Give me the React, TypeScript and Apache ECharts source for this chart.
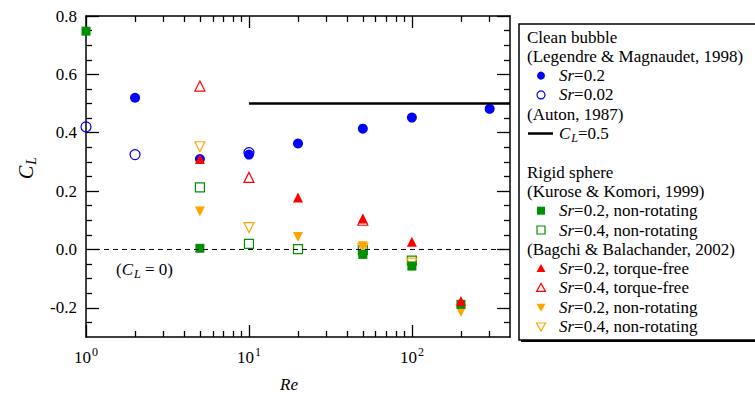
import { useEffect, useRef } from 'react';
import * as echarts from 'echarts';

const FONT = 'Liberation Serif';

// Clean bubble (Legendre & Magnaudet, 1998)
const bubbleSr02Re = [2, 5, 10, 20, 50, 100, 300];
const bubbleSr02CL = [0.52, 0.31, 0.325, 0.363, 0.414, 0.452, 0.482];
const bubbleSr002Re = [1, 2, 10];
const bubbleSr002CL = [0.42, 0.325, 0.332];
// Auton (1987) CL = 0.5
const autonRe = [10, 400];
const autonCL = [0.5, 0.5];
// Zero reference line
const zeroRe = [1, 400];
const zeroCL = [0, 0];
// Rigid sphere (Kurose & Komori, 1999)
const kuroseSr02Re = [1, 5, 50, 100, 200];
const kuroseSr02CL = [0.748, 0.004, -0.017, -0.057, -0.188];
const kuroseSr04Re = [5, 10, 20, 50, 100];
const kuroseSr04CL = [0.213, 0.019, 0.001, -0.002, -0.038];
// Bagchi & Balachander (2002)
const bagchiTF02Re = [5, 20, 50, 100, 200];
const bagchiTF02CL = [0.31, 0.178, 0.106, 0.026, -0.177];
const bagchiTF04Re = [5, 10, 50];
const bagchiTF04CL = [0.56, 0.247, 0.1];
const bagchiNR02Re = [5, 20, 50, 100, 200];
const bagchiNR02CL = [0.13, 0.043, 0.011, -0.058, -0.214];
const bagchiNR04Re = [5, 10, 50, 100];
const bagchiNR04CL = [0.352, 0.075, 0.004, -0.047];

// Ticks
const xMajorTicks = [1, 10, 100];
const xMinorTicks = [2, 3, 4, 5, 6, 7, 8, 9, 20, 30, 40, 50, 60, 70, 80, 90, 200, 300];
const yMajorTicks = [-0.2, 0, 0.2, 0.4, 0.6, 0.8];
const yMinorTicks = [-0.25, -0.15, -0.1, -0.05, 0.05, 0.1, 0.15, 0.25, 0.3, 0.35, 0.45, 0.5, 0.55, 0.65, 0.7, 0.75];

const zip = (xs: number[], ys: number[]) => xs.map((x, i) => [x, ys[i]]);

const BLUE = '#0000ff';
const GREEN = '#009000';
const RED = '#ff0000';
const ORANGE = '#ffa500';

const RICH = {
  n: { fontSize: 17, fontFamily: FONT, fill: '#000', color: '#000' },
  i: { fontStyle: 'italic', fontSize: 17, fontFamily: FONT, fill: '#000', color: '#000' },
  sub: { fontStyle: 'italic', fontSize: 12, fontFamily: FONT, fill: '#000', color: '#000', padding: [9, 0, 0, 1] },
  ti: { fontStyle: 'italic', fontSize: 20, fontFamily: FONT, fill: '#000', color: '#000' },
  tsub: { fontStyle: 'italic', fontSize: 14, fontFamily: FONT, fill: '#000', color: '#000', padding: [11, 0, 0, 1] },
};

export default function App() {
  const ref = useRef<HTMLDivElement>(null);

  useEffect(() => {
    if (!ref.current) return;
    const chart = echarts.init(ref.current, undefined, { renderer: 'svg' });

    const xAxis = (pos: string, ticks: number[], len: number, showLine: boolean, showLabel: boolean) => ({
      type: 'log',
      logBase: 10,
      min: 1,
      max: 400,
      position: pos,
      axisLine: { show: showLine, onZero: false, lineStyle: { color: '#000', width: 1.5 } },
      axisTick: { show: true, inside: true, length: len, customValues: ticks, lineStyle: { color: '#000', width: 1.3 } },
      axisLabel: showLabel
        ? {
            show: true,
            customValues: xMajorTicks,
            margin: 9,
            color: '#000',
            fontFamily: FONT,
            fontSize: 17,
            formatter: (v: number) => `{b|10}{s|${Math.round(Math.log10(v))}}`,
            rich: {
              b: { fontSize: 17, fontFamily: FONT, color: '#000' },
              s: { fontSize: 12, fontFamily: FONT, color: '#000', padding: [0, 0, 11, 1] },
            },
          }
        : { show: false },
      splitLine: { show: false },
      minorTick: { show: false },
      minorSplitLine: { show: false },
    });

    const yAxis = (pos: string, ticks: number[], len: number, showLine: boolean, showLabel: boolean) => ({
      type: 'value',
      min: -0.3,
      max: 0.8,
      interval: 0.1,
      position: pos,
      axisLine: { show: showLine, onZero: false, lineStyle: { color: '#000', width: 1.5 } },
      axisTick: { show: true, inside: true, length: len, customValues: ticks, lineStyle: { color: '#000', width: 1.3 } },
      axisLabel: showLabel
        ? {
            show: true,
            customValues: yMajorTicks,
            margin: 9,
            color: '#000',
            fontSize: 17,
            fontFamily: FONT,
            formatter: (v: number) => v.toFixed(1),
          }
        : { show: false },
      splitLine: { show: false },
      minorTick: { show: false },
      minorSplitLine: { show: false },
    });

    const scatter = (name: string, re: number[], cl: number[], symbol: string, size: number, color: string, filled: boolean, rotate = 0) => ({
      type: 'scatter',
      name,
      xAxisIndex: 0,
      yAxisIndex: 0,
      data: zip(re, cl),
      symbol,
      symbolSize: size,
      symbolRotate: rotate,
      itemStyle: filled
        ? { color, borderWidth: 0, opacity: 1 }
        : { color: 'rgba(255,255,255,0)', borderColor: color, borderWidth: 1.2, opacity: 1 },
      silent: true,
    });

    // Legend
    const LX = 527;
    const SX = 541;
    const TX = 559;
    const rowY = (i: number) => 37 + 19.3 * i;
    const txt = (x: number, y: number, text: string, extra: any = {}, props: any = {}) => ({
      type: 'text',
      x,
      y,
      ...props,
      style: {
        text,
        fontSize: 17,
        fontFamily: FONT,
        fill: '#000',
        verticalAlign: 'middle',
        rich: RICH,
        ...extra,
      },
      silent: true,
    });
    const circ = (y: number, color: string, filled: boolean) => ({
      type: 'circle',
      shape: { cx: SX, cy: y, r: 4 },
      style: filled ? { fill: color } : { fill: 'none', stroke: color, lineWidth: 1.2 },
    });
    const sq = (y: number, color: string, filled: boolean) => ({
      type: 'rect',
      shape: { x: SX - 4, y: y - 4, width: 8, height: 8 },
      style: filled ? { fill: color } : { fill: 'none', stroke: color, lineWidth: 1.2 },
    });
    const tri = (y: number, color: string, filled: boolean, down: boolean) => {
      const s = down ? -1 : 1;
      return {
        type: 'polygon',
        shape: {
          points: [
            [SX, y - 4.5 * s],
            [SX + 4.5, y + 3.5 * s],
            [SX - 4.5, y + 3.5 * s],
          ],
        },
        style: filled ? { fill: color } : { fill: 'none', stroke: color, lineWidth: 1.2 },
      };
    };

    const graphic: any[] = [
      { type: 'rect', shape: { x: 521, y: 26, width: 250, height: 316 }, style: { fill: '#000' }, silent: true },
      { type: 'rect', shape: { x: 519, y: 24, width: 250, height: 316 }, style: { fill: '#fff', stroke: '#000', lineWidth: 1.5 }, silent: true },
      txt(LX, rowY(0), '{n|Clean bubble}'),
      txt(LX, rowY(1), '{n|(Legendre & Magnaudet, 1998)}'),
      circ(rowY(2), BLUE, true),
      txt(TX, rowY(2), '{i|Sr}{n|=0.2}'),
      circ(rowY(3), BLUE, false),
      txt(TX, rowY(3), '{i|Sr}{n|=0.02}'),
      txt(LX, rowY(4), '{n|(Auton, 1987)}'),
      { type: 'line', shape: { x1: 528, y1: rowY(5), x2: 553, y2: rowY(5) }, style: { stroke: '#000', lineWidth: 2.5 } },
      txt(TX, rowY(5), '{i|C}{sub|L}{n|=0.5}'),
      txt(LX, rowY(7), '{n|Rigid sphere}'),
      txt(LX, rowY(8), '{n|(Kurose & Komori, 1999)}'),
      sq(rowY(9), GREEN, true),
      txt(TX, rowY(9), '{i|Sr}{n|=0.2, non-rotating}'),
      sq(rowY(10), GREEN, false),
      txt(TX, rowY(10), '{i|Sr}{n|=0.4, non-rotating}'),
      txt(LX, rowY(11), '{n|(Bagchi & Balachander, 2002)}'),
      tri(rowY(12), RED, true, false),
      txt(TX, rowY(12), '{i|Sr}{n|=0.2, torque-free}'),
      tri(rowY(13), RED, false, false),
      txt(TX, rowY(13), '{i|Sr}{n|=0.4, torque-free}'),
      tri(rowY(14), ORANGE, true, true),
      txt(TX, rowY(14), '{i|Sr}{n|=0.2, non-rotating}'),
      tri(rowY(15), ORANGE, false, true),
      txt(TX, rowY(15), '{i|Sr}{n|=0.4, non-rotating}'),
      // Annotation and axis titles
      txt(116, 269, '{n|(}{i|C}{sub|L}{n| = 0)}'),
      txt(289, 384, '{i|Re}', { align: 'center' }),
      txt(26, 168, '{ti|C}{tsub|L}', { align: 'center' }, { rotation: Math.PI / 2 }),
    ];

    chart.setOption({
      animation: false,
      backgroundColor: '#fff',
      grid: { left: 86, top: 16, right: 245, bottom: 59, containLabel: false },
      xAxis: [
        xAxis('bottom', xMajorTicks, 12, true, true),
        xAxis('bottom', xMinorTicks, 6, false, false),
        xAxis('top', xMajorTicks, 12, true, false),
        xAxis('top', xMinorTicks, 6, false, false),
      ],
      yAxis: [
        yAxis('left', yMajorTicks, 13, true, true),
        yAxis('left', yMinorTicks, 6, false, false),
        yAxis('right', yMajorTicks, 13, true, false),
        yAxis('right', yMinorTicks, 6, false, false),
      ],
      series: [
        {
          type: 'line',
          xAxisIndex: 0,
          yAxisIndex: 0,
          data: zip(zeroRe, zeroCL),
          symbol: 'none',
          lineStyle: { color: '#000', width: 1, type: [5, 4] },
          silent: true,
        },
        {
          type: 'line',
          xAxisIndex: 0,
          yAxisIndex: 0,
          data: zip(autonRe, autonCL),
          symbol: 'none',
          lineStyle: { color: '#000', width: 2.5 },
          silent: true,
        },
        scatter('bubble Sr=0.02', bubbleSr002Re, bubbleSr002CL, 'circle', 10, BLUE, false),
        scatter('bubble Sr=0.2', bubbleSr02Re, bubbleSr02CL, 'circle', 10, BLUE, true),
        scatter('Kurose Sr=0.4', kuroseSr04Re, kuroseSr04CL, 'rect', 9, GREEN, false),
        scatter('Bagchi NR Sr=0.4', bagchiNR04Re, bagchiNR04CL, 'triangle', 10, ORANGE, false, 180),
        scatter('Bagchi TF Sr=0.4', bagchiTF04Re, bagchiTF04CL, 'triangle', 10, RED, false),
        scatter('Bagchi NR Sr=0.2', bagchiNR02Re, bagchiNR02CL, 'triangle', 10, ORANGE, true, 180),
        scatter('Kurose Sr=0.2', kuroseSr02Re, kuroseSr02CL, 'rect', 9, GREEN, true),
        scatter('Bagchi TF Sr=0.2', bagchiTF02Re, bagchiTF02CL, 'triangle', 10, RED, true),
      ],
      graphic,
    } as any);

    return () => chart.dispose();
  }, []);

  return (
    <div
      ref={ref}
      style={{ position: 'absolute', left: 0, top: 0, width: 755, height: 396, background: '#fff' }}
    />
  );
}
